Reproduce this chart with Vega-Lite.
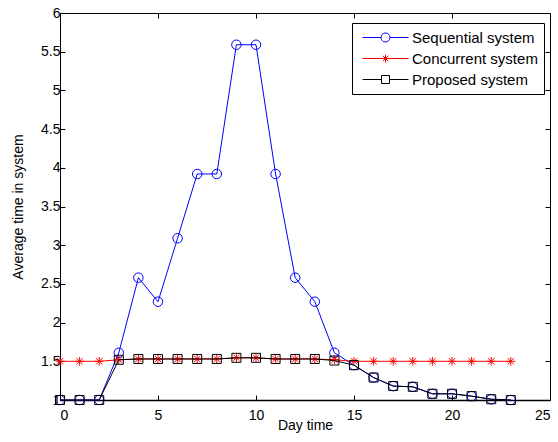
{
  "$schema": "https://vega.github.io/schema/vega-lite/v6.json",
  "width": 490,
  "height": 387,
  "autosize": {"type": "none"},
  "padding": {"left": 60, "top": 13, "right": 8, "bottom": 42},
  "background": "white",
  "config": {
    "view": {"stroke": null},
    "font": "Liberation Sans",
    "axis": {
      "labelFont": "Liberation Sans",
      "titleFont": "Liberation Sans",
      "labelFontSize": 14,
      "titleFontSize": 14,
      "labelColor": "#000000",
      "titleColor": "#000000",
      "titleFontWeight": "normal",
      "tickColor": "#000000",
      "domainColor": "#000000",
      "tickSize": -5,
      "tickWidth": 1,
      "domainWidth": 1,
      "grid": false
    }
  },
  "data": {
    "values": [
      {"x": 0, "y": 1.0, "series": "Sequential system"},
      {"x": 1, "y": 1.0, "series": "Sequential system"},
      {"x": 2, "y": 1.0, "series": "Sequential system"},
      {"x": 3, "y": 1.61, "series": "Sequential system"},
      {"x": 4, "y": 2.58, "series": "Sequential system"},
      {"x": 5, "y": 2.27, "series": "Sequential system"},
      {"x": 6, "y": 3.09, "series": "Sequential system"},
      {"x": 7, "y": 3.92, "series": "Sequential system"},
      {"x": 8, "y": 3.92, "series": "Sequential system"},
      {"x": 9, "y": 5.59, "series": "Sequential system"},
      {"x": 10, "y": 5.59, "series": "Sequential system"},
      {"x": 11, "y": 3.92, "series": "Sequential system"},
      {"x": 12, "y": 2.58, "series": "Sequential system"},
      {"x": 13, "y": 2.27, "series": "Sequential system"},
      {"x": 14, "y": 1.61, "series": "Sequential system"},
      {"x": 15, "y": 1.45, "series": "Sequential system"},
      {"x": 16, "y": 1.29, "series": "Sequential system"},
      {"x": 17, "y": 1.18, "series": "Sequential system"},
      {"x": 18, "y": 1.17, "series": "Sequential system"},
      {"x": 19, "y": 1.08, "series": "Sequential system"},
      {"x": 20, "y": 1.08, "series": "Sequential system"},
      {"x": 21, "y": 1.05, "series": "Sequential system"},
      {"x": 22, "y": 1.01, "series": "Sequential system"},
      {"x": 23, "y": 1.0, "series": "Sequential system"},
      {"x": 0, "y": 1.5, "series": "Concurrent system"},
      {"x": 1, "y": 1.5, "series": "Concurrent system"},
      {"x": 2, "y": 1.5, "series": "Concurrent system"},
      {"x": 3, "y": 1.52, "series": "Concurrent system"},
      {"x": 4, "y": 1.53, "series": "Concurrent system"},
      {"x": 5, "y": 1.53, "series": "Concurrent system"},
      {"x": 6, "y": 1.53, "series": "Concurrent system"},
      {"x": 7, "y": 1.53, "series": "Concurrent system"},
      {"x": 8, "y": 1.53, "series": "Concurrent system"},
      {"x": 9, "y": 1.545, "series": "Concurrent system"},
      {"x": 10, "y": 1.545, "series": "Concurrent system"},
      {"x": 11, "y": 1.53, "series": "Concurrent system"},
      {"x": 12, "y": 1.53, "series": "Concurrent system"},
      {"x": 13, "y": 1.53, "series": "Concurrent system"},
      {"x": 14, "y": 1.52, "series": "Concurrent system"},
      {"x": 15, "y": 1.5, "series": "Concurrent system"},
      {"x": 16, "y": 1.5, "series": "Concurrent system"},
      {"x": 17, "y": 1.5, "series": "Concurrent system"},
      {"x": 18, "y": 1.5, "series": "Concurrent system"},
      {"x": 19, "y": 1.5, "series": "Concurrent system"},
      {"x": 20, "y": 1.5, "series": "Concurrent system"},
      {"x": 21, "y": 1.5, "series": "Concurrent system"},
      {"x": 22, "y": 1.5, "series": "Concurrent system"},
      {"x": 23, "y": 1.5, "series": "Concurrent system"},
      {"x": 0, "y": 1.0, "series": "Proposed system"},
      {"x": 1, "y": 1.0, "series": "Proposed system"},
      {"x": 2, "y": 1.0, "series": "Proposed system"},
      {"x": 3, "y": 1.52, "series": "Proposed system"},
      {"x": 4, "y": 1.53, "series": "Proposed system"},
      {"x": 5, "y": 1.53, "series": "Proposed system"},
      {"x": 6, "y": 1.53, "series": "Proposed system"},
      {"x": 7, "y": 1.53, "series": "Proposed system"},
      {"x": 8, "y": 1.53, "series": "Proposed system"},
      {"x": 9, "y": 1.545, "series": "Proposed system"},
      {"x": 10, "y": 1.545, "series": "Proposed system"},
      {"x": 11, "y": 1.53, "series": "Proposed system"},
      {"x": 12, "y": 1.53, "series": "Proposed system"},
      {"x": 13, "y": 1.53, "series": "Proposed system"},
      {"x": 14, "y": 1.51, "series": "Proposed system"},
      {"x": 15, "y": 1.45, "series": "Proposed system"},
      {"x": 16, "y": 1.29, "series": "Proposed system"},
      {"x": 17, "y": 1.18, "series": "Proposed system"},
      {"x": 18, "y": 1.17, "series": "Proposed system"},
      {"x": 19, "y": 1.08, "series": "Proposed system"},
      {"x": 20, "y": 1.08, "series": "Proposed system"},
      {"x": 21, "y": 1.05, "series": "Proposed system"},
      {"x": 22, "y": 1.01, "series": "Proposed system"},
      {"x": 23, "y": 1.0, "series": "Proposed system"}
    ]
  },
  "resolve": {"axis": {"x": "independent", "y": "independent"}},
  "layer": [
    {
      "transform": [{"filter": "datum.series === 'Sequential system'"}],
      "mark": {"type": "line", "strokeWidth": 1, "color": "#0000ff"},
      "encoding": {
        "x": {"field": "x", "type": "quantitative", "scale": {"domain": [0, 25], "nice": false, "zero": false},
          "axis": {"orient": "bottom", "values": [0, 5, 10, 15, 20, 25], "title": "Day time", "labelPadding": 13, "titlePadding": -4, "domainWidth": 1.5}},
        "y": {"field": "y", "type": "quantitative", "scale": {"domain": [1, 6], "nice": false, "zero": false},
          "axis": {"orient": "left", "values": [1, 1.5, 2, 2.5, 3, 3.5, 4, 4.5, 5, 5.5, 6], "format": "~g", "title": "Average time in system", "labelPadding": 5, "titlePadding": 15}},
        "order": {"field": "x", "type": "quantitative"}
      }
    },
    {
      "transform": [{"filter": "datum.series === 'Sequential system'"}],
      "mark": {"type": "point", "shape": "circle", "size": 90, "filled": false, "color": "#0000ff", "strokeWidth": 1, "opacity": 1},
      "encoding": {
        "x": {"field": "x", "type": "quantitative", "axis": {"orient": "top", "values": [0, 5, 10, 15, 20, 25], "labels": false, "title": null}},
        "y": {"field": "y", "type": "quantitative", "axis": {"orient": "right", "values": [1, 1.5, 2, 2.5, 3, 3.5, 4, 4.5, 5, 5.5, 6], "labels": false, "title": null}}
      }
    },
    {
      "transform": [{"filter": "datum.series === 'Concurrent system'"}],
      "mark": {"type": "line", "strokeWidth": 1, "color": "#ff0000"},
      "encoding": {
        "x": {"field": "x", "type": "quantitative", "axis": null},
        "y": {"field": "y", "type": "quantitative", "axis": null},
        "order": {"field": "x", "type": "quantitative"}
      }
    },
    {
      "transform": [{"filter": "datum.series === 'Concurrent system'"}],
      "mark": {"type": "point", "shape": "M0,-1V1M-1,0H1M-0.75,-0.75L0.75,0.75M-0.75,0.75L0.75,-0.75", "size": 72, "filled": false, "color": "#ff0000", "strokeWidth": 1, "opacity": 1},
      "encoding": {
        "x": {"field": "x", "type": "quantitative", "axis": null},
        "y": {"field": "y", "type": "quantitative", "axis": null}
      }
    },
    {
      "transform": [{"filter": "datum.series === 'Proposed system'"}],
      "mark": {"type": "line", "strokeWidth": 1, "color": "#000000"},
      "encoding": {
        "x": {"field": "x", "type": "quantitative", "axis": null},
        "y": {"field": "y", "type": "quantitative", "axis": null},
        "order": {"field": "x", "type": "quantitative"}
      }
    },
    {
      "transform": [{"filter": "datum.series === 'Proposed system'"}],
      "mark": {"type": "point", "shape": "square", "size": 81, "filled": false, "color": "#000000", "strokeWidth": 1, "opacity": 1},
      "encoding": {
        "x": {"field": "x", "type": "quantitative", "axis": null},
        "y": {"field": "y", "type": "quantitative", "axis": null}
      }
    },
    {
      "mark": {"type": "point", "filled": false, "opacity": 0, "size": 100, "strokeWidth": 1},
      "encoding": {
        "x": {"field": "x", "type": "quantitative", "axis": null},
        "y": {"field": "y", "type": "quantitative", "axis": null},
        "color": {"field": "series", "type": "nominal",
          "scale": {"domain": ["Sequential system", "Concurrent system", "Proposed system"], "range": ["#0000ff", "#ff0000", "#000000"]},
          "legend": {"title": null, "orient": "none", "legendX": 292, "legendY": 10, "padding": 6, "strokeColor": "#000000", "fillColor": "#ffffff", "cornerRadius": 0,
            "labelFont": "Liberation Sans", "labelFontSize": 15, "labelColor": "#000000", "symbolSize": 100, "symbolStrokeWidth": 1, "symbolOpacity": 1,
            "symbolOffset": 20, "labelOffset": 19, "clipHeight": 17, "rowPadding": 4}},
        "shape": {"field": "series", "type": "nominal",
          "scale": {"domain": ["Sequential system", "Concurrent system", "Proposed system"],
            "range": ["M-4.6,0H-0.9M0.9,0H4.6M0.9,0A0.9,0.9,0,1,1,-0.9,0A0.9,0.9,0,1,1,0.9,0", "M-4.6,0H4.6M0,-0.75V0.75M-0.55,-0.55L0.55,0.55M-0.55,0.55L0.55,-0.55", "M-4.6,0H-0.8M0.8,0H4.6M-0.8,-0.8H0.8V0.8H-0.8Z"]},
          "legend": {"title": null, "orient": "none", "legendX": 292, "legendY": 10, "padding": 6, "strokeColor": "#000000", "fillColor": "#ffffff", "cornerRadius": 0,
            "labelFont": "Liberation Sans", "labelFontSize": 15, "labelColor": "#000000", "symbolSize": 100, "symbolStrokeWidth": 1, "symbolOpacity": 1,
            "symbolOffset": 20, "labelOffset": 19, "clipHeight": 17, "rowPadding": 4}}
      }
    }
  ]
}
